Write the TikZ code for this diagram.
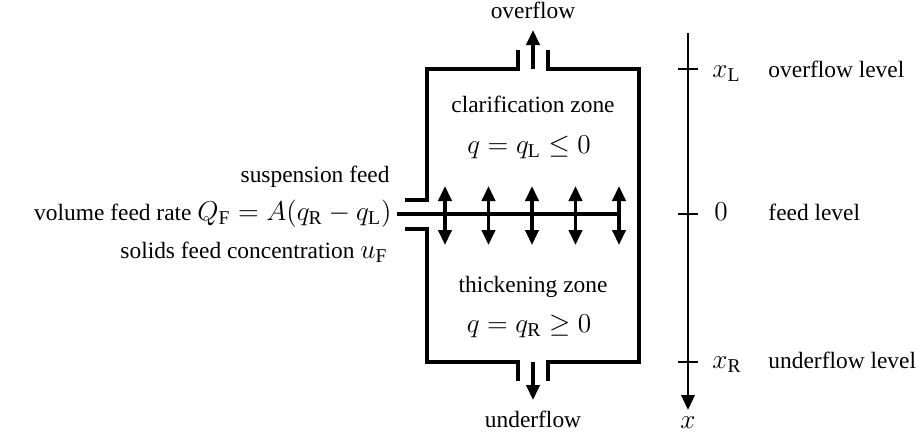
\documentclass[tikz,border=0pt]{standalone}
\usepackage{fontspec}
\setmainfont{Liberation Serif}
\usetikzlibrary{arrows.meta}
\newcommand{\mth}[1]{{\fontsize{12.3}{14}\selectfont$#1$}}

\begin{document}
\begin{tikzpicture}[x=0.44pt,y=-0.44pt,
  wall/.style={line width=1.5pt},
  flow/.style={line width=1.5pt,-{Triangle[length=6.6pt,width=5.8pt]}},
  tick/.style={line width=1pt}]
\useasboundingbox (0,0) rectangle (916,434);
\begin{scope}[every node/.style={font=\fontsize{10.3}{12}\selectfont, inner sep=0pt}]

% tank walls with feed inlet and outlets
\draw [wall] (405,200) -- (427,200) -- (427,69) -- (518,69) -- (518,50);
\draw [wall] (548,50) -- (548,69) -- (639,69) -- (639,362) -- (548,362) -- (548,381);
\draw [wall] (518,381) -- (518,362) -- (427,362) -- (427,229) -- (405,229);

% feed pipe and spreading arrows
\coordinate (feedin) at (397,214);
\coordinate (feedend) at (619,214);
\draw [wall] (feedin) -- (feedend);
\foreach \i in {0,...,4} {
  \coordinate (f\i) at (445+43.5*\i,214);
  \draw [flow] (f\i) -- ++(0,-28);
  \draw [flow] (f\i) -- ++(0,31);
}

% outlets
\coordinate (topout) at (533,69);
\coordinate (topend) at (533,30);
\coordinate (botout) at (533,362);
\coordinate (botend) at (533,400);
\draw [flow] (topout) -- (topend);
\draw [flow] (botout) -- (botend);
\node (overflow) [anchor=base] at (533,18) {overflow};
\node (underflow) [anchor=base] at (533,427) {underflow};

% zones
\node (clar) [anchor=base] at (533,112) {clarification zone};
\node (clarq) [anchor=base] at (529,153) {\mth{q=q_{\mathrm{L}}\le 0}};
\node (thick) [anchor=base] at (533,292) {thickening zone};
\node (thickq) [anchor=base] at (529,332) {\mth{q=q_{\mathrm{R}}\ge 0}};

% feed labels
\node (susp) [anchor=base east] at (390,182) {suspension feed};
\node (rate) [anchor=base east] at (392,220) {volume feed rate \mth{Q_{\mathrm{F}}=A(q_{\mathrm{R}}-q_{\mathrm{L}})}};
\node (conc) [anchor=base east] at (388,258) {solids feed concentration \mth{u_{\mathrm{F}}}};

% depth axis
\coordinate (axtop) at (688,33);
\coordinate (axbot) at (688,410);
\draw [flow,line width=1.3pt] (axtop) -- (axbot);
\node (xlab) [anchor=base] at (688,428) {\mth{x}};
\foreach \y in {69,214,362}
  \draw [tick] (678,\y) -- (698,\y);
\node (xL) [anchor=base west] at (712,77) {\mth{x_{\mathrm{L}}}};
\node (xO) [anchor=base west] at (714,220) {\mth{0}};
\node (xR) [anchor=base west] at (712,368) {\mth{x_{\mathrm{R}}}};
\node (lvlL) [anchor=base west] at (768,77) {overflow level};
\node (lvlO) [anchor=base west] at (768,220) {feed level};
\node (lvlR) [anchor=base west] at (768,368) {underflow level};

\end{scope}
\end{tikzpicture}
\end{document}
